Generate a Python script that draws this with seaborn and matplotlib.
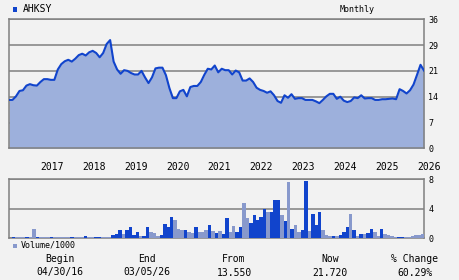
import numpy as np
import pandas as pd
import matplotlib
matplotlib.use("Agg")
import matplotlib.pyplot as plt
from matplotlib.patches import Rectangle
import seaborn as sns

# ---- data ----
ticker = "AHKSY"
price = [13.5, 13.5, 14.5, 16.0, 16.2, 17.5, 17.9, 17.6, 17.5, 18.5,
         19.3, 19.3, 19.1, 19.1, 22.0, 23.5, 24.3, 24.7, 24.2, 25.0,
         26.0, 26.4, 25.9, 26.8, 27.2, 26.6, 25.4, 26.6, 29.1, 30.2,
         24.2, 22.0, 20.8, 21.8, 21.6, 21.0, 20.6, 20.6, 21.6, 19.8,
         18.2, 19.8, 22.3, 22.5, 22.5, 20.4, 16.8, 14.0, 14.0, 15.9,
         16.3, 14.5, 17.1, 17.4, 17.4, 18.5, 20.5, 22.2, 22.0, 23.1,
         21.2, 22.2, 21.8, 21.8, 20.6, 21.7, 21.2, 18.9, 18.9, 19.5,
         18.5, 16.9, 16.3, 16.0, 15.5, 15.9, 14.8, 13.2, 12.7, 14.8,
         14.1, 15.1, 13.8, 14.0, 14.0, 13.5, 13.5, 13.5, 13.1, 12.6,
         13.5, 14.5, 15.2, 15.2, 13.8, 14.4, 13.3, 12.9, 13.2, 14.2,
         14.0, 14.8, 13.9, 14.0, 14.0, 13.5, 13.5, 13.7, 13.7, 13.8,
         13.9, 13.7, 16.5, 16.0, 15.3, 16.2, 17.8, 20.5, 23.3, 21.7]

volume = [0.12, 0.12, 0.12, 0.12, 0.12, 0.15, 1.29, 0.12, 0.15, 0.15,
          0.15, 0.23, 0.15, 0.15, 0.23, 0.15, 0.15, 0.15, 0.15, 0.15,
          0.23, 0.32, 0.23, 0.23, 0.23, 0.23, 0.23, 0.23, 0.23, 0.46,
          0.60, 1.15, 0.60, 1.15, 1.56, 0.46, 0.87, 0.32, 0.32, 1.56,
          0.87, 0.74, 0.37, 0.46, 1.98, 1.47, 2.94, 2.44, 1.29, 1.15,
          1.15, 0.87, 0.74, 1.56, 0.87, 0.87, 1.15, 1.84, 1.01, 0.74,
          1.01, 0.64, 2.71, 0.92, 1.61, 0.92, 1.47, 4.78, 2.71, 2.02,
          3.22, 2.44, 2.85, 3.95, 3.54, 3.54, 5.20, 5.20, 3.22, 2.30,
          7.63, 1.20, 1.84, 0.92, 1.06, 7.82, 1.01, 3.36, 1.75, 3.63,
          1.06, 0.46, 0.32, 0.32, 0.32, 0.46, 0.92, 1.47, 3.36, 1.15,
          0.32, 0.60, 0.60, 0.78, 1.29, 0.87, 0.32, 1.29, 0.55, 0.41,
          0.28, 0.18, 0.18, 0.18, 0.12, 0.18, 0.32, 0.46, 0.50, 0.55]

# 1 = light bar, 0 = dark bar
vol_light = [0, 1, 1, 1, 0, 1, 1, 0, 1, 1,
             1, 0, 1, 1, 1, 1, 1, 0, 1, 1,
             1, 0, 1, 1, 0, 0, 1, 1, 1, 0,
             0, 0, 1, 0, 0, 0, 0, 1, 0, 0,
             1, 1, 1, 0, 0, 0, 0, 1, 1, 1,
             0, 1, 1, 0, 1, 1, 1, 0, 1, 0,
             1, 0, 0, 1, 1, 0, 0, 1, 1, 0,
             0, 0, 0, 0, 1, 0, 0, 0, 1, 0,
             1, 0, 1, 1, 0, 0, 1, 0, 0, 0,
             1, 1, 1, 0, 1, 0, 0, 0, 1, 0,
             1, 0, 1, 0, 0, 1, 1, 0, 1, 1,
             1, 1, 0, 0, 1, 1, 1, 1, 1, 1]

years = ["2017", "2018", "2019", "2020", "2021", "2022", "2023", "2024", "2025", "2026"]
year_start_idx = [9, 21, 33, 45, 57, 69, 81, 93, 105, 117]
price_ticks = [0, 7.2, 14.4, 21.6, 28.8, 36]
price_tick_labels = ["0", "7", "14", "21", "29", "36"]
vol_ticks = [0, 4, 8]
vol_tick_labels = ["0", "4", "8"]
footer_heads = ["Begin", "End", "From", "Now", "% Change"]
footer_vals = ["04/30/16", "03/05/26", "13.550", "21.720", "60.29%"]

# ---- styling ----
BG = "#f2f2f2"
LINE = "#1144cc"
FILL = "#9db0dc"
DARK = "#1144cc"
LIGHT = "#8899cc"
GRID = "#808080"
MONO = ["DejaVu Sans Mono"]

plt.rcParams["font.family"] = MONO
W, H = 460, 280
fig = plt.figure(figsize=(W / 100, H / 100), dpi=100, facecolor=BG)

def px_axes(left, top, right, bottom):
    return fig.add_axes([left / W, 1 - bottom / H, (right - left) / W, (bottom - top) / H])

def style_box(ax):
    ax.set_facecolor(BG)
    for s in ax.spines.values():
        s.set_color(GRID)
        s.set_linewidth(1.1)

# price panel
ax = px_axes(9, 19.3, 424, 148.3)
style_box(ax)
idx = np.arange(len(price))
df_p = pd.DataFrame({"idx": idx, "price": price})
ax.fill_between(df_p["idx"], df_p["price"], 0, color=FILL, zorder=2, linewidth=0)
sns.lineplot(data=df_p, x="idx", y="price", color=LINE, linewidth=1.5, ax=ax, zorder=3)
ax.set_xlim(0, len(price) - 1)
ax.set_ylim(0, 36)
ax.yaxis.tick_right()
ax.set_yticks(price_ticks)
ax.set_yticklabels(price_tick_labels, fontsize=6, family=MONO)
ax.tick_params(axis="y", length=0, pad=3)
ax.grid(axis="y", color=GRID, linewidth=1.1, zorder=0)
ax.set_axisbelow(True)
ax.set_xticks(year_start_idx)
ax.set_xticklabels(years, fontsize=7, family=MONO, ha="left")
ax.tick_params(axis="x", length=0, pad=10)
ax.set_xlabel("")
ax.set_ylabel("")

# volume panel
axv = px_axes(9, 179.3, 424, 238.3)
style_box(axv)
df_v = pd.DataFrame({"idx": idx, "vol": volume,
                     "kind": ["light" if v else "dark" for v in vol_light]})
sns.barplot(data=df_v, x="idx", y="vol", hue="kind",
            palette={"light": LIGHT, "dark": DARK}, dodge=False, width=1.0,
            legend=False, ax=axv, zorder=3, linewidth=0, saturation=1)
axv.set_xlim(-1.28, 119.3)
axv.set_ylim(0, 8)
axv.yaxis.tick_right()
axv.set_yticks(vol_ticks)
axv.set_yticklabels(vol_tick_labels, fontsize=6, family=MONO)
axv.tick_params(axis="y", length=0, pad=3)
axv.set_xticks([])
axv.grid(axis="y", color=GRID, linewidth=1.1, zorder=0)
axv.set_axisbelow(True)
axv.set_xlabel("")
axv.set_ylabel("")

def ftext(x, y, s, size=7, ha="left"):
    fig.text(x / W, 1 - y / H, s, fontsize=size, ha=ha, va="center", family=MONO, color="black")

# header
fig.add_artist(Rectangle((12.7 / W, 1 - 11.5 / H), 4.6 / W, 4.6 / H,
                         transform=fig.transFigure, color=DARK, linewidth=0))
ftext(22.5, 9.5, ticker, size=7)
ftext(357, 9, "Monthly", size=6, ha="center")

# volume legend
fig.add_artist(Rectangle((13.3 / W, 1 - 247.5 / H), 4.0 / W, 4.0 / H,
                         transform=fig.transFigure, color=LIGHT, linewidth=0))
ftext(20.5, 245.5, "Volume/1000", size=6)

# footer
xs = [60, 147, 234, 330, 415]
for x, h, v in zip(xs, footer_heads, footer_vals):
    ftext(x, 259.5, h, size=7, ha="center")
    ftext(x, 272.5, v, size=7, ha="center")

fig.savefig("out.png", dpi=100, facecolor=BG)
